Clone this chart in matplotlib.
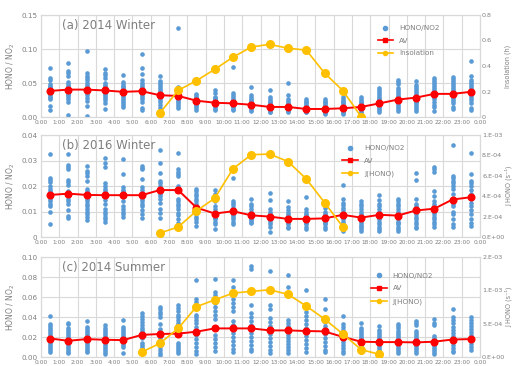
import numpy as np
import matplotlib
matplotlib.use("Agg")
import matplotlib.pyplot as plt
from matplotlib.lines import Line2D

# hourly bins, points plotted at the half hour
hours = np.arange(24) + 0.5
hour_labels = ["%d:00" % h for h in range(24)] + ["0:00"]

# HONO/NO2 samples per hour, in units of 1e-3
pts_a = [
    [72, 58, 55, 49, 46, 44, 42, 40, 38, 36, 34, 32, 30, 28, 26, 16, 10],
    [79, 68, 65, 60, 52, 49, 46, 44, 42, 40, 38, 36, 34, 32, 29, 26, 22, 3],
    [97, 64, 61, 58, 55, 50, 47, 44, 42, 40, 38, 35, 32, 28, 24, 16, 2],
    [71, 65, 62, 58, 50, 47, 45, 42, 40, 38, 36, 34, 31, 28, 25, 20, 12],
    [62, 52, 49, 46, 44, 42, 40, 38, 36, 33, 30, 27, 24, 20, 17, 15],
    [92, 72, 63, 55, 50, 47, 44, 42, 40, 38, 35, 32, 29, 26, 22, 13, 11],
    [61, 53, 50, 47, 44, 41, 38, 36, 34, 32, 30, 28, 25, 22, 18, 13, 8],
    [131, 44, 42, 40, 38, 36, 34, 32, 30, 28, 26, 24, 22, 19, 16, 13],
    [34, 32, 30, 28, 27, 26, 25, 24, 23, 22, 21, 20, 18, 16, 13, 11],
    [40, 35, 30, 28, 26, 25, 24, 23, 22, 21, 20, 18, 16, 14, 12, 10],
    [73, 35, 32, 29, 27, 25, 23, 22, 21, 20, 19, 18, 16, 14, 12, 10],
    [44, 33, 29, 27, 25, 23, 21, 20, 19, 18, 17, 15, 13, 11, 9],
    [39, 30, 27, 24, 22, 20, 18, 17, 16, 15, 14, 13, 12, 10, 8, 7],
    [50, 33, 27, 24, 21, 19, 17, 16, 15, 14, 13, 12, 11, 9, 7],
    [26, 24, 22, 20, 18, 16, 15, 14, 13, 12, 11, 10, 9, 8, 7],
    [27, 24, 22, 20, 18, 16, 15, 14, 13, 12, 11, 10, 8, 6, 5],
    [30, 27, 24, 22, 20, 18, 16, 15, 14, 13, 12, 11, 10, 8, 6, 4],
    [29, 27, 24, 22, 20, 18, 17, 16, 15, 14, 13, 12, 10, 8, 6],
    [43, 40, 37, 34, 31, 28, 26, 24, 22, 20, 19, 18, 16, 14, 12, 10, 7],
    [55, 52, 49, 43, 40, 37, 34, 31, 29, 27, 25, 23, 21, 18, 15, 12, 9],
    [53, 47, 44, 41, 38, 35, 32, 30, 28, 26, 24, 22, 20, 18, 15, 12, 9],
    [58, 55, 52, 49, 46, 43, 40, 37, 35, 33, 31, 29, 26, 22, 18, 14, 9],
    [59, 56, 53, 50, 47, 44, 41, 38, 36, 34, 32, 30, 27, 24, 20, 15, 12],
    [82, 60, 55, 52, 48, 45, 42, 40, 38, 36, 34, 31, 28, 25, 20, 13, 10],
]
pts_b = [
    [32.5, 23, 22.5, 21.6, 20, 19, 18, 17, 16, 15, 14, 13, 12, 10, 5],
    [32.5, 28.2, 27.3, 26.6, 22.5, 21.5, 20.5, 18, 17, 15, 14, 13, 10.5, 8.3, 7.6],
    [28, 26, 25, 24, 22, 19, 18, 17, 16, 15, 14, 13, 12, 11, 10, 9, 8, 6.6],
    [31, 29, 27.5, 21, 20, 19, 18, 17, 16, 14.5, 13, 11, 10, 9, 8, 7, 6],
    [30.7, 24.6, 19.5, 18.5, 18, 17, 16, 15.5, 14, 12, 11, 10, 9, 8],
    [28, 27, 26.6, 22.7, 19.5, 18.5, 17, 16, 15, 14, 13, 12, 10.5, 9, 7.6],
    [34, 29, 25, 22, 21, 20, 19, 18, 17, 16, 15, 13.5, 11, 9.5, 7.6],
    [32.8, 26.5, 25.5, 24.8, 24, 20, 15, 14, 13, 12, 11, 9.5, 8.5, 7, 5.5],
    [19, 18, 17, 16, 15, 14, 13, 12, 11, 10, 9, 8, 7, 6, 4.5],
    [18.3, 17, 15.5, 14, 12, 11, 10, 9.5, 9, 8.5, 8, 7.5, 7, 6, 5, 3],
    [23, 14.3, 13.5, 12.5, 11.5, 11, 10.5, 10, 9.5, 9, 8.5, 8, 7, 6, 5],
    [15, 13, 12, 11, 10, 9.5, 9, 8.5, 8, 7.5, 7, 6.5, 6, 5.5],
    [17.3, 14.7, 11, 10, 9, 8.5, 8, 7.5, 7, 6.5, 6, 5, 4, 2],
    [14.3, 11.8, 10.5, 9.5, 8.5, 8, 7.5, 7, 6.5, 6, 5.5, 5, 4, 3.5],
    [15.7, 11, 10, 9, 8.5, 8, 7.5, 7, 6.5, 6, 5.5, 5, 4, 3],
    [13, 11.5, 10, 9, 8.5, 8, 7.5, 7, 6.5, 6, 5.5, 5, 4, 3],
    [20.3, 14.8, 13.5, 12.5, 11.5, 10.5, 9.5, 9, 8, 7, 6, 5, 4, 3, 2.5],
    [14, 13, 12, 11, 10, 9, 8, 7.5, 7, 6, 5, 4.5, 4, 3, 2.5],
    [16.4, 14.5, 13, 12, 11, 10, 9, 8, 7.5, 7, 6, 5, 4, 3, 2.5],
    [14.8, 14, 13, 12, 11, 10, 9, 8, 7, 6, 5.5, 5, 4, 3, 2.5],
    [25, 22.3, 15, 13, 12, 11, 10, 9, 8, 7, 6, 5, 4, 3.5],
    [27.5, 26.5, 25.6, 18, 16, 14, 13, 12, 11, 10, 9, 8, 7, 6, 5, 4],
    [36, 24, 23, 22, 21, 20, 19, 17, 15, 14, 13, 12, 10, 9, 7, 5, 4],
    [33, 24.9, 22, 21, 20, 18.5, 17, 15, 13.5, 12, 10.5, 9, 7, 5.5, 4.5],
]
pts_c = [
    [41, 33, 31, 29, 27, 25, 23, 21, 19, 17, 15, 13, 11, 9, 7, 5],
    [34, 33, 29, 27, 25, 23, 21, 19, 17, 15, 13, 11, 9, 7, 5, 4],
    [36, 30, 28, 26, 24, 22, 20, 18, 16, 14, 12, 10, 8, 6, 5],
    [32, 29, 27, 25, 23, 21, 19, 17, 15, 13, 11, 9, 7, 5, 3],
    [37, 30, 28, 26, 24, 22, 20, 18, 16, 14, 12, 10, 4],
    [44, 41, 38, 35, 32, 29, 27, 25, 22, 19, 14, 12, 10, 8, 6, 5],
    [50, 48, 45, 43, 40, 33, 28, 25, 22, 19, 16, 13, 10, 7, 4, 2],
    [52, 49, 46, 42, 40, 37, 34, 32, 14, 12, 10, 8, 6, 4],
    [77, 58, 55, 52, 42, 40, 37, 34, 30, 26, 22, 18, 14, 10, 6, 3],
    [78, 65, 62, 58, 54, 50, 46, 42, 38, 22, 18, 14, 10, 6],
    [77, 70, 62, 58, 54, 50, 46, 36, 32, 28, 24, 20, 16, 12, 8, 5],
    [91, 88, 52, 44, 40, 36, 32, 28, 24, 20, 16, 12, 8, 6],
    [86, 52, 48, 39, 35, 31, 27, 23, 19, 15, 11, 7, 4],
    [82, 70, 62, 37, 34, 31, 28, 25, 22, 19, 16, 13, 10, 7, 4],
    [67, 49, 45, 41, 37, 33, 29, 25, 21, 17, 13, 9, 5],
    [58, 48, 39, 35, 31, 27, 23, 19, 15, 11, 7, 5],
    [41, 33, 30, 27, 24, 21, 18, 15, 12, 9, 6, 4],
    [34, 29, 27, 25, 23, 21, 19, 17, 15, 13, 11, 9, 7, 5],
    [31, 27, 25, 23, 21, 19, 17, 15, 13, 11, 9, 7, 5, 3],
    [33, 31, 29, 26, 24, 22, 20, 18, 16, 14, 12, 10, 8, 6, 4],
    [36, 34, 32, 26, 24, 22, 20, 18, 16, 14, 12, 10, 8, 6, 4],
    [38, 34, 32, 21, 19, 17, 15, 13, 11, 9, 7, 5, 3],
    [48, 40, 37, 34, 30, 27, 24, 21, 18, 15, 12, 9, 6, 5],
    [40, 37, 34, 31, 28, 25, 22, 19, 16, 13, 10, 7],
]

# hourly averages of HONO/NO2
av_a = [0.0384, 0.0403, 0.0403, 0.0390, 0.0370, 0.0380, 0.0320, 0.0310,
        0.0240, 0.0210, 0.0200, 0.0180, 0.0148, 0.0148, 0.0118, 0.0118,
        0.0128, 0.0148, 0.0200, 0.0256, 0.0285, 0.0340, 0.0340, 0.0370]
av_b = [0.0165, 0.0170, 0.0165, 0.0164, 0.0164, 0.0164, 0.0184, 0.0184,
        0.0115, 0.0092, 0.0101, 0.0085, 0.0080, 0.0071, 0.0071, 0.0073,
        0.0087, 0.0076, 0.0087, 0.0084, 0.0104, 0.0111, 0.0147, 0.0156]
av_c = [0.0185, 0.0162, 0.0179, 0.0172, 0.0169, 0.0221, 0.0230, 0.0234,
        0.0253, 0.0286, 0.0286, 0.0286, 0.0266, 0.0266, 0.0260, 0.0256,
        0.0201, 0.0153, 0.0149, 0.0149, 0.0146, 0.0153, 0.0175, 0.0179]

# daytime secondary series (insolation in h, J(HONO) in s-1)
sun_a_hours = np.arange(6, 18) + 0.5
sun_a = [0.031, 0.209, 0.285, 0.374, 0.470, 0.549, 0.570, 0.539,
         0.525, 0.345, 0.207, 0.003]
j_b_hours = np.arange(6, 17) + 0.5
j_b = [3.9e-5, 9.8e-5, 2.56e-4, 3.8e-4, 6.7e-4, 8.07e-4, 8.13e-4,
       7.4e-4, 5.7e-4, 3.38e-4, 1.0e-4]
j_c_hours = np.arange(5, 19) + 0.5
j_c = [7.3e-5, 2.05e-4, 4.29e-4, 7.55e-4, 8.57e-4, 9.59e-4, 9.84e-4,
       1.008e-3, 9.4e-4, 7.65e-4, 5.7e-4, 3.46e-4, 1.12e-4, 3.9e-5]

BLUE = "#5B9BD5"
RED = "#FF0000"
GOLD = "#FFC000"
GRID = "#D9D9D9"
TXT = "#7F7F7F"

panels = [
    dict(pts=pts_a, av=av_a, sx=sun_a_hours, sy=sun_a, title="(a) 2014 Winter",
         ylim=0.15, yticks=[0, 0.05, 0.10, 0.15], ylabs=["0.00", "0.05", "0.10", "0.15"],
         rlim=0.8, rticks=[0, 0.2, 0.4, 0.6, 0.8], rlabs=["0", "0.2", "0.4", "0.6", "0.8"],
         rname="Insolation (h)", sname="Insolation", box=(41, 15, 117), leg=(0.76, 0.93)),
    dict(pts=pts_b, av=av_b, sx=j_b_hours, sy=j_b, title="(b) 2016 Winter",
         ylim=0.04, yticks=[0, 0.01, 0.02, 0.03, 0.04], ylabs=["0", "0.01", "0.02", "0.03", "0.04"],
         rlim=1e-3, rticks=[0, 2e-4, 4e-4, 6e-4, 8e-4, 1e-3],
         rlabs=["0.E+00", "2.E-04", "4.E-04", "6.E-04", "8.E-04", "1.E-03"],
         rname="J HONO (s\u207b\u00b9)", sname="J(HONO)", box=(41, 135, 237), leg=(0.68, 0.93)),
    dict(pts=pts_c, av=av_c, sx=j_c_hours, sy=j_c, title="(c) 2014 Summer",
         ylim=0.10, yticks=[0, 0.02, 0.04, 0.06, 0.08, 0.10],
         ylabs=["0.00", "0.02", "0.04", "0.06", "0.08", "0.10"],
         rlim=1.5e-3, rticks=[0, 5e-4, 1e-3, 1.5e-3], rlabs=["0.E+00", "5.E-04", "1.E-03", "2.E-03"],
         rname="J HONO (s\u207b\u00b9)", sname="J(HONO)", box=(41, 257, 357), leg=(0.745, 0.87)),
]

W, H = 512, 366
fig = plt.figure(figsize=(W / 100, H / 100), dpi=100)

for p in panels:
    x0, top, bot = p["box"]
    ax = fig.add_axes([x0 / W, 1 - bot / H, (480 - x0) / W, (bot - top) / H])
    ax2 = ax.twinx()

    for i, col in enumerate(p["pts"]):
        v = np.array(col) * 1e-3
        ax.scatter(np.full(len(v), hours[i]), v, s=11, color=BLUE, linewidths=0, zorder=2)
    ax.plot(hours, p["av"], color=RED, lw=1.4, marker="o", ms=4.8, zorder=3)
    ax2.plot(p["sx"], p["sy"], color=GOLD, lw=1.2, marker="o", ms=5.5, zorder=4)

    ax.set_xlim(0, 24)
    ax.set_xticks(np.arange(25))
    ax.set_xticklabels(hour_labels, fontsize=4.2, color=TXT)
    ax.set_ylim(0, p["ylim"])
    ax.set_yticks(p["yticks"])
    ax.set_yticklabels(p["ylabs"], fontsize=5.2, color=TXT)
    ax2.set_ylim(0, p["rlim"])
    ax2.set_yticks(p["rticks"])
    ax2.set_yticklabels(p["rlabs"], fontsize=4.6, color=TXT)

    ax.grid(True, color=GRID, lw=0.8, zorder=0)
    ax.set_axisbelow(True)
    ax.tick_params(length=0, pad=2.5)
    ax2.tick_params(length=0, pad=1.5)
    for a in (ax, ax2):
        for s in a.spines.values():
            s.set_color(GRID)
            s.set_linewidth(0.8)

    ax.set_ylabel("HONO / NO$_2$", fontsize=5.5, color=TXT)
    ax.yaxis.set_label_coords(-0.0547, 0.5)
    ax2.set_ylabel(p["rname"], fontsize=4.7, color=TXT)
    ax2.yaxis.set_label_coords(1.0555, 0.5)
    ax.text(0.048, 0.9, p["title"], transform=ax.transAxes, fontsize=8.5,
            color=TXT, va="center", ha="left")

    handles = [
        Line2D([], [], ls="none", marker="o", ms=3, color=BLUE),
        Line2D([], [], color=RED, lw=1.2, marker="s", ms=2.5),
        Line2D([], [], color=GOLD, lw=1.2, marker="o", ms=3),
    ]
    leg = ax2.legend(handles, ["HONO/NO2", "AV", p["sname"]], loc="upper left",
                     bbox_to_anchor=p["leg"], frameon=False, fontsize=5.2,
                     handlelength=2.2, labelspacing=0.9, borderaxespad=0)
    for t in leg.get_texts():
        t.set_color(TXT)

fig.savefig("out.png", dpi=100)
